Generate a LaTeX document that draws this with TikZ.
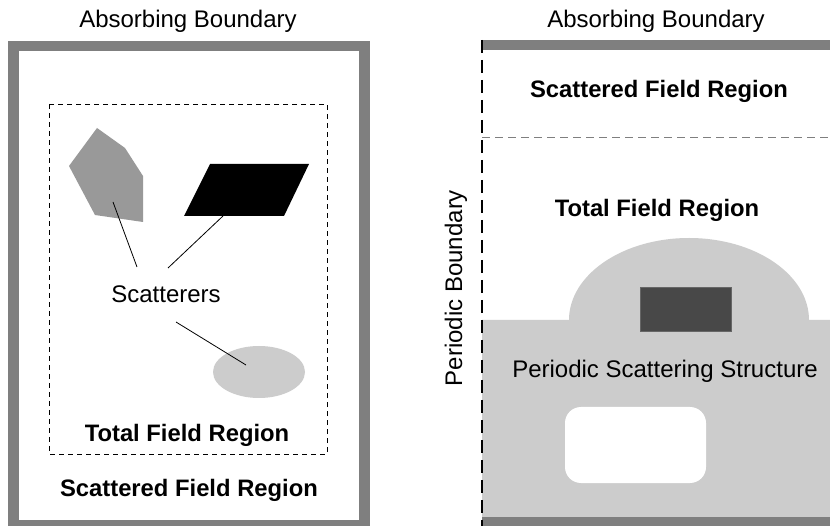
\documentclass[tikz,border=0pt]{standalone}
\usepackage{fontspec}
\setmainfont{Liberation Sans}
\definecolor{framegray}{HTML}{7F7F7F}
\definecolor{midgray}{HTML}{999999}
\definecolor{lightgray2}{HTML}{CCCCCC}
\definecolor{darkbox}{HTML}{484848}
\begin{document}
\begin{tikzpicture}[x=1pt,y=-1pt,
  lbl/.style={font=\fontsize{24}{26}\selectfont, anchor=base, inner sep=0pt},
  blbl/.style={font=\fontsize{23.8}{26}\selectfont\bfseries, anchor=base, inner sep=0pt},
  frame/.style={draw=framegray, line width=10.5pt},
  leader/.style={draw=black, line width=0.8pt}]
\useasboundingbox (0,0) rectangle (830,526);
\fill[white] (0,0) rectangle (830,526);

% ---------- left panel ----------
\draw[frame] (13.5,46) rectangle (364.5,525.5);
\draw[black, line width=0.8pt, dash pattern=on 5pt off 4pt] (49,104) rectangle (327,454);

\fill[midgray] (97,128) -- (125,148) -- (143,176) -- (143,222) -- (95,215) -- (69,166) -- cycle;
\fill[black] (210,164) -- (309,164) -- (284,216) -- (184,216) -- cycle;
\fill[lightgray2] (259,372) ellipse [x radius=46pt, y radius=26pt];

\coordinate (hexin) at (113,202);
\coordinate (hexout) at (137,267);
\coordinate (parin) at (223,216);
\coordinate (parout) at (168,268);
\coordinate (ellout) at (176,322);
\coordinate (ellin) at (246,365);
\draw[leader] (hexin) -- (hexout);
\draw[leader] (parin) -- (parout);
\draw[leader] (ellout) -- (ellin);

\node[lbl] (titleL) at (188,28) {Absorbing Boundary};
\node[lbl] (scat) at (166,303) {Scatterers};
\node[blbl] (tfrL) at (187,441) {Total Field Region};
\node[blbl] (sfrL) at (189,496) {Scattered Field Region};

% ---------- right panel ----------
\fill[lightgray2] (482,320) -- (569,320)
  arc[start angle=180, end angle=0, x radius=120pt, y radius=82pt]
  -- (830,320) -- (830,517) -- (482,517) -- cycle;
\fill[darkbox] (640,287) rectangle (731,331);
\draw[black!60, line width=0.6pt] (640,287) rectangle (731,331);
\fill[white, rounded corners=16pt] (565,407) rectangle (706,483);

\draw[framegray, line width=10pt] (482,45) -- (830,45);
\fill[framegray] (482,517) rectangle (830,526);
\draw[framegray, line width=0.9pt, dash pattern=on 8pt off 5pt] (482,137) -- (830,137);
\draw[black, line width=2.2pt, dash pattern=on 13pt off 7pt] (482,40) -- (482,526);

\node[lbl] (titleR) at (656,28) {Absorbing Boundary};
\node[blbl] (sfrR) at (659,98) {Scattered Field Region};
\node[blbl] (tfrR) at (657,217) {Total Field Region};
\node[lbl] (pss) at (665,378) {Periodic Scattering Structure};
\node[lbl, rotate=90] (pb) at (462,288) {Periodic Boundary};
\end{tikzpicture}
\end{document}
